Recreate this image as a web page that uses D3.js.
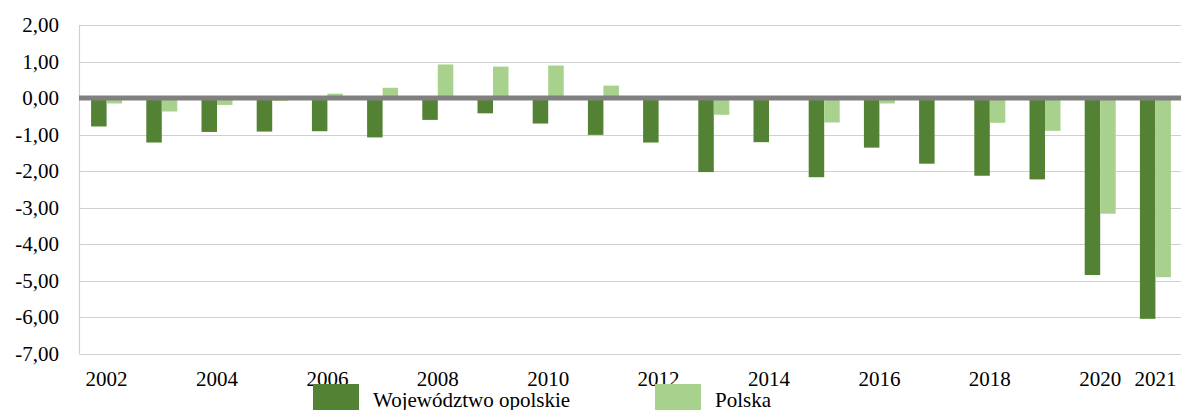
<!DOCTYPE html>
<html lang="pl"><head><meta charset="UTF-8">
<title>Wykres</title>
<script src="https://d3js.org/d3.v7.min.js"></script>
<style>
  body { margin: 0; background: #fff; }
</style>
</head>
<body>
<script>
var years = [2002, 2003, 2004, 2005, 2006, 2007, 2008, 2009, 2010, 2011,
             2012, 2013, 2014, 2015, 2016, 2017, 2018, 2019, 2020, 2021];
var opolskie = [-0.78, -1.22, -0.93, -0.92, -0.91, -1.08, -0.60, -0.42, -0.70, -1.01,
                -1.22, -2.03, -1.21, -2.17, -1.36, -1.80, -2.13, -2.23, -4.85, -6.05];
var polska = [-0.15, -0.37, -0.19, -0.08, 0.12, 0.28, 0.92, 0.86, 0.89, 0.34,
              0.0, -0.46, 0.0, -0.67, -0.15, 0.0, -0.68, -0.90, -3.17, -4.91];
var seriesNames = ["Województwo opolskie", "Polska"];
var colors = ["#548235", "#A9D18E"];
var yTicks = [2, 1, 0, -1, -2, -3, -4, -5, -6, -7];
var xLabels = [2002, 2004, 2006, 2008, 2010, 2012, 2014, 2016, 2018, 2020, 2021];

var serif = "Times New Roman, Liberation Serif, Tinos, DejaVu Serif, Noto Serif, serif";
var w = 1181, h = 410;
var svg = d3.select("body").append("svg").attr("width", w).attr("height", h)
  .attr("font-family", serif);

var x = d3.scaleBand().domain(years).range([79, 1183]);
var y = d3.scaleLinear().domain([-7, 2]).range([353.5, 25]);
var barW = 15.5;

// gridlines
svg.append("g").selectAll("line").data(yTicks.filter(function(d){ return d !== 0; }))
  .enter().append("line")
  .attr("x1", 79).attr("x2", w)
  .attr("y1", function(d){ return Math.round(y(d)) + 0.5; })
  .attr("y2", function(d){ return Math.round(y(d)) + 0.5; })
  .attr("stroke", "#d0d0d0").attr("stroke-width", 1.2);

// left axis line
svg.append("line").attr("x1", 79.5).attr("x2", 79.5)
  .attr("y1", y(2)).attr("y2", y(-7))
  .attr("stroke", "#d0d0d0").attr("stroke-width", 1.2);

// y labels
var yAxis = d3.axisLeft(y).tickValues(yTicks).tickSize(0).tickPadding(0)
  .tickFormat(function(d){ return d3.format(".2f")(d).replace(".", ",").replace("−", "-"); });
var ya = svg.append("g").attr("transform", "translate(59,0)").call(yAxis)
  .attr("font-family", serif).attr("font-size", 21);
ya.select(".domain").remove();
ya.selectAll("text").attr("fill", "#000");

// bars
var data = [opolskie, polska];
data.forEach(function(vals, s) {
  svg.append("g").selectAll("rect").data(vals).enter().append("rect")
    .attr("x", function(d, i){ return x(years[i]) + x.bandwidth() / 2 - barW + s * barW; })
    .attr("width", barW)
    .attr("y", function(d){ return y(Math.max(0, d)); })
    .attr("height", function(d){ return Math.abs(y(d) - y(0)); })
    .attr("fill", colors[s]);
});

// zero line
svg.append("line").attr("x1", 79).attr("x2", w)
  .attr("y1", y(0)).attr("y2", y(0))
  .attr("stroke", "#808080").attr("stroke-width", 5);

// x labels
var xAxis = d3.axisBottom(x).tickValues(xLabels).tickSize(0).tickPadding(0);
var xa = svg.append("g").attr("transform", "translate(0,371)").call(xAxis)
  .attr("font-family", serif).attr("font-size", 21);
xa.select(".domain").remove();
xa.selectAll("text").attr("fill", "#000");

// legend
var legendX = [313, 655];
seriesNames.forEach(function(name, i) {
  svg.append("rect").attr("x", legendX[i]).attr("y", 384)
    .attr("width", 46).attr("height", 28).attr("fill", colors[i]);
  svg.append("text").attr("x", legendX[i] + 60).attr("y", 407)
    .attr("font-size", 21).attr("font-family", serif)
    .attr("fill", "#000").text(name);
});
</script>
</body>
</html>
